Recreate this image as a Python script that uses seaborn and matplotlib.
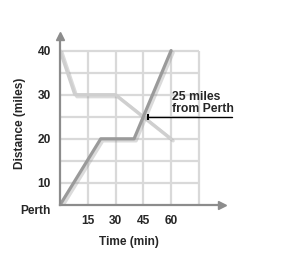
import pandas as pd
import matplotlib
matplotlib.use('Agg')
import matplotlib.pyplot as plt
import matplotlib.patheffects as pe
import seaborn as sns

# data
time_min = [0, 22, 40, 60]
dist_from_perth = [5, 20, 20, 40]      # bottom of axis is "Perth"
time_back = [0, 8, 30, 60]
dist_back = [40, 30, 30, 20]
x_ticks = [15, 30, 45, 60, 75]
x_ticklabels = ['15', '30', '45', '60', '']
y_ticks = [5, 10, 15, 20, 25, 30, 35, 40]
y_ticklabels = ['Perth', '10', '', '20', '', '30', '', '40']
meet_time = 45
meet_dist = 25
note = '25 miles\nfrom Perth'

sns.set_style('white')
plt.rcParams['font.family'] = ['Liberation Sans', 'DejaVu Sans']
plt.rcParams['font.weight'] = 'bold'

fig = plt.figure(figsize=(2.92, 2.54), dpi=100)
ax = fig.add_axes([0.2055, 0.1929, 0.5548, 0.6654])
ax.set_xlim(0, 87.5)
ax.set_ylim(5, 43.3)

axis_gray = '#8c8c8c'
grid_gray = '#d9d9d9'

# grid only inside the 0-75 / 5-40 box
ax.hlines(y_ticks[1:], 0, x_ticks[-1], color=grid_gray, lw=1.6, zorder=1)
ax.vlines(x_ticks, y_ticks[0], y_ticks[-1], color=grid_gray, lw=1.6, zorder=1)

shadow = [pe.SimpleLineShadow(offset=(1.5, -1.5), shadow_color='#999999', alpha=0.35), pe.Normal()]
df1 = pd.DataFrame({'time': time_back, 'dist': dist_back})
df2 = pd.DataFrame({'time': time_min, 'dist': dist_from_perth})
sns.lineplot(data=df1, x='time', y='dist', color='#cfcfcf', lw=2.3, ax=ax, zorder=3,
             path_effects=shadow)
sns.lineplot(data=df2, x='time', y='dist', color='#9a9a9a', lw=2.3, ax=ax, zorder=4,
             path_effects=shadow)

# axes with arrows
for s in ['top', 'right']:
    ax.spines[s].set_visible(False)
for s in ['left', 'bottom']:
    ax.spines[s].set_color(axis_gray)
    ax.spines[s].set_linewidth(1.6)
    ax.spines[s].set_zorder(5)
ax.plot(0, 1, '^', color=axis_gray, ms=6, transform=ax.get_xaxis_transform(), clip_on=False, zorder=6)
ax.plot(1, 5, '>', color=axis_gray, ms=6, transform=ax.get_yaxis_transform(), clip_on=False, zorder=6)

ax.set_xticks(x_ticks)
ax.set_xticklabels(x_ticklabels)
ax.set_yticks(y_ticks)
ax.set_yticklabels(y_ticklabels)
ax.tick_params(axis='both', length=3.5, width=1.2, color=axis_gray, labelsize=8.6, direction='out')
ax.tick_params(axis='x', pad=4)
ax.tick_params(axis='y', pad=3)
ax.get_yticklabels()[0].set_va('top')

ax.set_xlabel('Time (min)', fontsize=8.6, fontweight='bold')
ax.set_ylabel('Distance (miles)', fontsize=8.6, fontweight='bold')
ax.xaxis.set_label_coords(0.426, -0.185)
ax.yaxis.set_label_coords(-0.21, 0.485)

# annotation for meeting point
ax.plot([meet_time + 2.5, 93], [meet_dist, meet_dist], color='black', lw=1, clip_on=False, zorder=7)
ax.plot(meet_time + 2.5, meet_dist, '|', color='black', ms=4, mew=1.5, zorder=7)
ax.text(60.3, meet_dist + 0.4, note, fontsize=8.8, fontweight='bold', va='bottom', ha='left',
        linespacing=1.05)

fig.savefig('out.png', dpi=100)
